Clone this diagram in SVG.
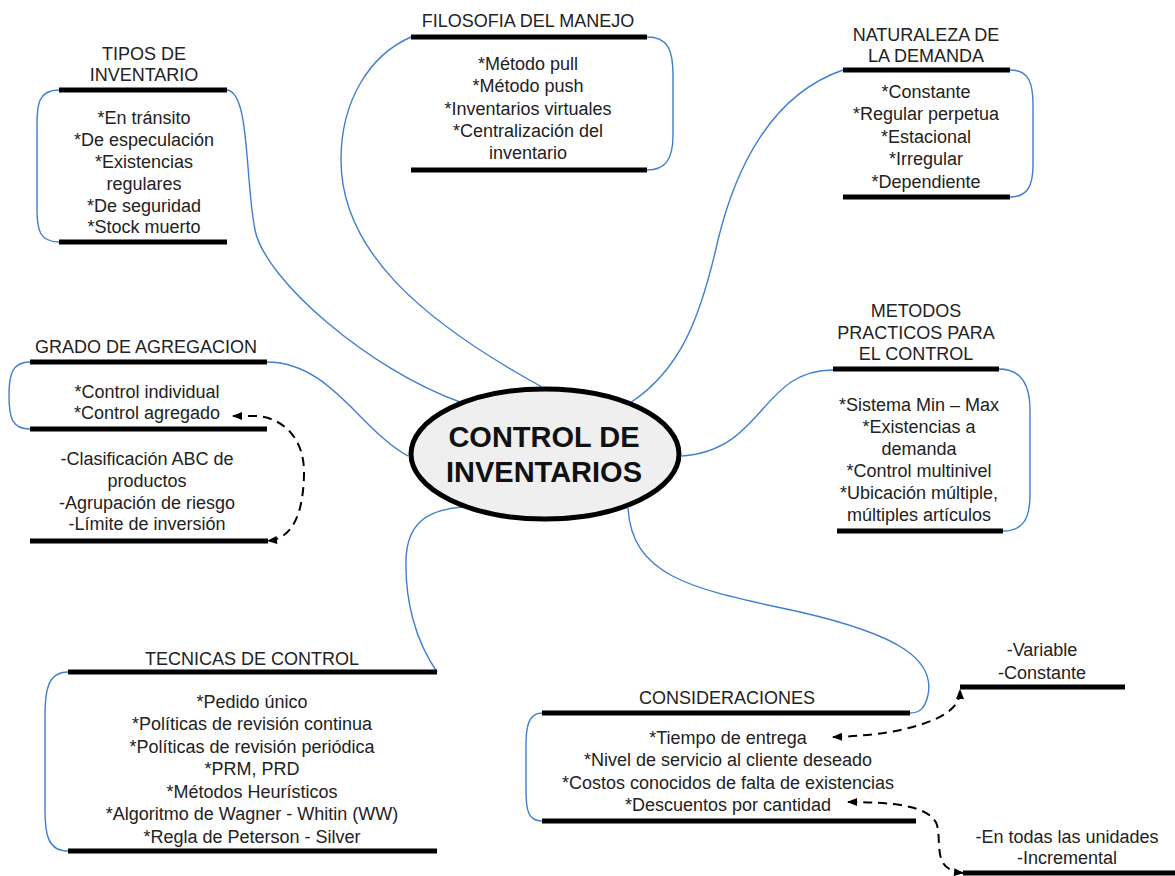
<svg xmlns="http://www.w3.org/2000/svg" width="1175" height="876" viewBox="0 0 1175 876">
<style>
  .t{font-family:"Liberation Sans",Arial,sans-serif;font-size:18px;fill:#222;text-anchor:middle}
  .c{font-family:"Liberation Sans",Arial,sans-serif;font-size:29px;font-weight:bold;fill:#111;text-anchor:middle}
  .bar{stroke:#000;stroke-width:5;fill:none}
  .blue{stroke:#3f7fd0;stroke-width:1.4;fill:none}
  .dash{stroke:#000;stroke-width:2;fill:none;stroke-dasharray:9 6}
</style>
<defs>
  <marker id="ah" viewBox="0 0 10 8" markerWidth="11" markerHeight="8" refX="9" refY="4" orient="auto-start-reverse" markerUnits="userSpaceOnUse">
    <path d="M0,0 L10,4 L0,8 z" fill="#000"/>
  </marker>
</defs>
<rect width="1175" height="876" fill="#fff"/>
<g id="connectors">
  <path class="blue" d="M227,90 C250,92 245,180 255,230 C265,280 370,370 460,402"/>
  <path class="blue" d="M411,37 C370,55 341,100 341,160 C341,250 420,320 542,387"/>
  <path class="blue" d="M843,70 C770,95 735,170 718,240 C700,320 680,370 630,403"/>
  <path class="blue" d="M267,362 C330,362 360,430 408,456"/>
  <path class="blue" d="M833,370 C760,370 765,450 682,456"/>
  <path class="blue" d="M437,672 C415,640 405,600 406,560 C407,525 425,510 462,507"/>
  <path class="blue" d="M628,508 C632,580 700,590 800,612 C900,635 935,660 928,695 C925,708 920,713 910,713"/>
  <path class="dash" marker-start="url(#ah)" marker-end="url(#ah)" d="M233,416 L258,416 C285,419 305,440 304,475 C303,510 295,538 268,541"/>
  <path class="dash" marker-start="url(#ah)" marker-end="url(#ah)" d="M833,737 C880,736 925,728 948,712 C958,704 960,698 960,690"/>
  <path class="dash" marker-start="url(#ah)" marker-end="url(#ah)" d="M848,802 C890,802 930,805 937,825 C942,845 932,870 963,873"/>
</g>
<g id="center">
  <ellipse cx="545" cy="454" rx="134" ry="65" fill="#efefef" stroke="#000" stroke-width="5"/>
  <text class="c" x="544" y="447">CONTROL DE</text>
  <text class="c" x="544" y="482">INVENTARIOS</text>
</g>
<g id="tipos">
  <path class="blue" d="M59,90 C38,90 37,105 37,125 L37,210 C37,230 40,242 59,242"/>
  <line class="bar" x1="59" y1="90" x2="227" y2="90"/>
  <line class="bar" x1="59" y1="242" x2="227" y2="242"/>
  <text class="t" x="144" y="60">TIPOS DE</text>
  <text class="t" x="144" y="81">INVENTARIO</text>
  <text class="t" x="144" y="124">*En tránsito</text>
  <text class="t" x="144" y="146">*De especulación</text>
  <text class="t" x="144" y="168">*Existencias</text>
  <text class="t" x="144" y="190">regulares</text>
  <text class="t" x="144" y="212">*De seguridad</text>
  <text class="t" x="144" y="233">*Stock muerto</text>
</g>
<g id="filosofia">
  <path class="blue" d="M647,37 C668,37 673,50 673,75 L673,135 C673,160 665,170 647,170"/>
  <line class="bar" x1="411" y1="37" x2="647" y2="37"/>
  <line class="bar" x1="411" y1="170" x2="647" y2="170"/>
  <text class="t" x="528" y="27">FILOSOFIA DEL MANEJO</text>
  <text class="t" x="528" y="70">*Método pull</text>
  <text class="t" x="528" y="92">*Método push</text>
  <text class="t" x="528" y="115">*Inventarios virtuales</text>
  <text class="t" x="528" y="137">*Centralización del</text>
  <text class="t" x="528" y="159">inventario</text>
</g>
<g id="naturaleza">
  <path class="blue" d="M1010,70 C1030,70 1033,85 1033,105 L1033,165 C1033,185 1028,197 1010,197"/>
  <line class="bar" x1="843" y1="70" x2="1010" y2="70"/>
  <line class="bar" x1="843" y1="197" x2="1010" y2="197"/>
  <text class="t" x="926" y="41">NATURALEZA DE</text>
  <text class="t" x="926" y="62">LA DEMANDA</text>
  <text class="t" x="926" y="98">*Constante</text>
  <text class="t" x="926" y="120">*Regular perpetua</text>
  <text class="t" x="926" y="143">*Estacional</text>
  <text class="t" x="926" y="165">*Irregular</text>
  <text class="t" x="926" y="188">*Dependiente</text>
</g>
<g id="grado">
  <path class="blue" d="M30,362 C12,362 9,375 9,395 C9,418 12,429 30,429"/>
  <line class="bar" x1="30" y1="362" x2="267" y2="362"/>
  <line class="bar" x1="30" y1="429" x2="267" y2="429"/>
  <line class="bar" x1="30" y1="541" x2="268" y2="541"/>
  <text class="t" x="146" y="353">GRADO DE AGREGACION</text>
  <text class="t" x="147" y="398">*Control individual</text>
  <text class="t" x="147" y="419">*Control agregado</text>
  <text class="t" x="147" y="465">-Clasificación ABC de</text>
  <text class="t" x="147" y="487">productos</text>
  <text class="t" x="147" y="509">-Agrupación de riesgo</text>
  <text class="t" x="147" y="530">-Límite de inversión</text>
</g>
<g id="metodos">
  <path class="blue" d="M999,369 C1022,369 1030,385 1030,410 L1030,495 C1030,520 1022,531 1003,531"/>
  <line class="bar" x1="833" y1="369" x2="999" y2="369"/>
  <line class="bar" x1="837" y1="531" x2="1003" y2="531"/>
  <text class="t" x="916" y="317">METODOS</text>
  <text class="t" x="916" y="339">PRACTICOS PARA</text>
  <text class="t" x="916" y="360">EL CONTROL</text>
  <text class="t" x="919" y="411">*Sistema Min – Max</text>
  <text class="t" x="919" y="433">*Existencias a</text>
  <text class="t" x="919" y="455">demanda</text>
  <text class="t" x="919" y="477">*Control multinivel</text>
  <text class="t" x="919" y="499">*Ubicación múltiple,</text>
  <text class="t" x="919" y="521">múltiples artículos</text>
</g>
<g id="tecnicas">
  <path class="blue" d="M68,672 C48,672 45,690 45,715 L45,810 C45,835 48,851 68,851"/>
  <line class="bar" x1="68" y1="672" x2="437" y2="672"/>
  <line class="bar" x1="68" y1="851" x2="437" y2="851"/>
  <text class="t" x="252" y="665">TECNICAS DE CONTROL</text>
  <text class="t" x="252" y="708">*Pedido único</text>
  <text class="t" x="252" y="730">*Políticas de revisión continua</text>
  <text class="t" x="252" y="753">*Políticas de revisión periódica</text>
  <text class="t" x="252" y="775">*PRM, PRD</text>
  <text class="t" x="252" y="798">*Métodos Heurísticos</text>
  <text class="t" x="252" y="820">*Algoritmo de Wagner - Whitin (WW)</text>
  <text class="t" x="252" y="843">*Regla de Peterson - Silver</text>
</g>
<g id="consideraciones">
  <path class="blue" d="M542,713 C528,713 526,728 526,745 L526,790 C526,810 528,821 542,821"/>
  <line class="bar" x1="542" y1="713" x2="910" y2="713"/>
  <line class="bar" x1="542" y1="821" x2="916" y2="821"/>
  <text class="t" x="727" y="704">CONSIDERACIONES</text>
  <text class="t" x="728" y="744">*Tiempo de entrega</text>
  <text class="t" x="728" y="766">*Nivel de servicio al cliente deseado</text>
  <text class="t" x="728" y="789">*Costos conocidos de falta de existencias</text>
  <text class="t" x="728" y="811">*Descuentos por cantidad</text>
</g>
<g id="variable">
  <line class="bar" x1="960" y1="687" x2="1125" y2="687"/>
  <text class="t" x="1042" y="656">-Variable</text>
  <text class="t" x="1042" y="679">-Constante</text>
</g>
<g id="entodas">
  <line class="bar" x1="963" y1="873" x2="1175" y2="873"/>
  <text class="t" x="1067" y="843">-En todas las unidades</text>
  <text class="t" x="1067" y="864">-Incremental</text>
</g>
</svg>
